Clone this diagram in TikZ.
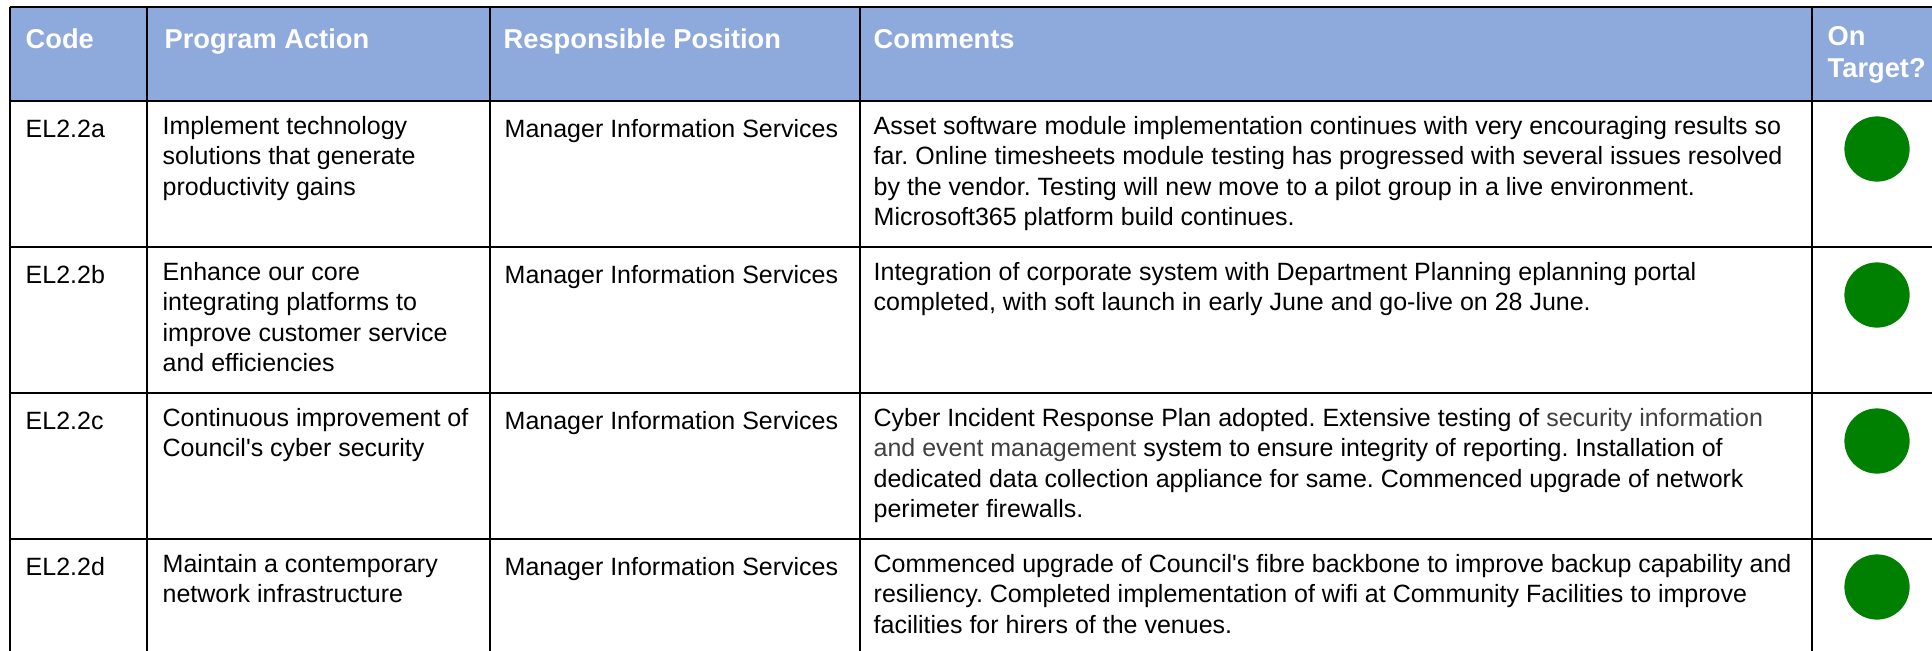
\documentclass[tikz,border=0pt]{standalone}
\usepackage{fontspec}
\newfontfamily\tabfont{Liberation Sans}
\definecolor{hdrblue}{RGB}{142,169,219}
\definecolor{ongreen}{RGB}{0,128,0}
\definecolor{linkgrey}{RGB}{64,64,64}
\frenchspacing

\begin{document}
\begin{tikzpicture}[x=0.44pt, y=-0.44pt, line width=0.6pt,
    hdr/.style={anchor=north west, inner sep=0pt, align=left, text=white,
        font=\tabfont\bfseries\fontsize{12}{14}\selectfont,
        execute at begin node=\strut},
    cell/.style={anchor=north west, inner sep=0pt, align=left,
        font=\tabfont\fontsize{11}{13.3}\selectfont,
        execute at begin node=\strut},
    dot/.style={circle, fill=ongreen, minimum size=28.7pt, inner sep=0pt}]
    \useasboundingbox (0,0) rectangle (1932,651);
    % header band
    \fill[hdrblue] (10,7) rectangle (1932,101);
    % grid
    \draw (10,7) -- (1932,7);
    \foreach \y in {101,247,393,539}
        \draw (10,\y) -- (1932,\y);
    \foreach \x in {10,147,490,860,1812}
        \draw (\x,7) -- (\x,651);
    % header
    \node[hdr] (hcode) at (25,25.7) {Code};
    \node[hdr] (hact) at (164,25.7) {Program Action};
    \node[hdr] (hpos) at (503,25.7) {Responsible Position};
    \node[hdr] (hcom) at (873,25.7) {Comments};
    \node[hdr] (htgt) at (1827,25.7) {On\\Target?};
    % EL2.2a
    \node[cell] (codea) at (25,115.8) {EL2.2a};
    \node[cell] (acta) at (162,115.8) {Implement technology\\solutions that generate\\productivity gains};
    \node[cell] (posa) at (504,115.8) {Manager Information Services};
    \node[cell] (coma) at (873,115.8) {Asset software module implementation continues with very encouraging results so\\far. Online timesheets module testing has progressed with several issues resolved\\by the vendor. Testing will new move to a pilot group in a live environment.\\Microsoft365 platform build continues.};
    \node[dot] (tgta) at (1877,149) {};
    % EL2.2b
    \node[cell] (codeb) at (25,261.8) {EL2.2b};
    \node[cell] (actb) at (162,261.8) {Enhance our core\\integrating platforms to\\improve customer service\\and efficiencies};
    \node[cell] (posb) at (504,261.8) {Manager Information Services};
    \node[cell] (comb) at (873,261.8) {Integration of corporate system with Department Planning eplanning portal\\completed, with soft launch in early June and go-live on 28 June.};
    \node[dot] (tgtb) at (1877,295) {};
    % EL2.2c
    \node[cell] (codec) at (25,407.8) {EL2.2c};
    \node[cell] (actc) at (162,407.8) {Continuous improvement of\\Council's cyber security};
    \node[cell] (posc) at (504,407.8) {Manager Information Services};
    \node[cell] (comc) at (873,407.8) {Cyber Incident Response Plan adopted. Extensive testing of \textcolor{linkgrey}{security information}\\\textcolor{linkgrey}{and event management} system to ensure integrity of reporting. Installation of\\dedicated data collection appliance for same. Commenced upgrade of network\\perimeter firewalls.};
    \node[dot] (tgtc) at (1877,441) {};
    % EL2.2d
    \node[cell] (coded) at (25,553.8) {EL2.2d};
    \node[cell] (actd) at (162,553.8) {Maintain a contemporary\\network infrastructure};
    \node[cell] (posd) at (504,553.8) {Manager Information Services};
    \node[cell] (comd) at (873,553.8) {Commenced upgrade of Council's fibre backbone to improve backup capability and\\resiliency. Completed implementation of wifi at Community Facilities to improve\\facilities for hirers of the venues.};
    \node[dot] (tgtd) at (1877,587) {};
\end{tikzpicture}
\end{document}
